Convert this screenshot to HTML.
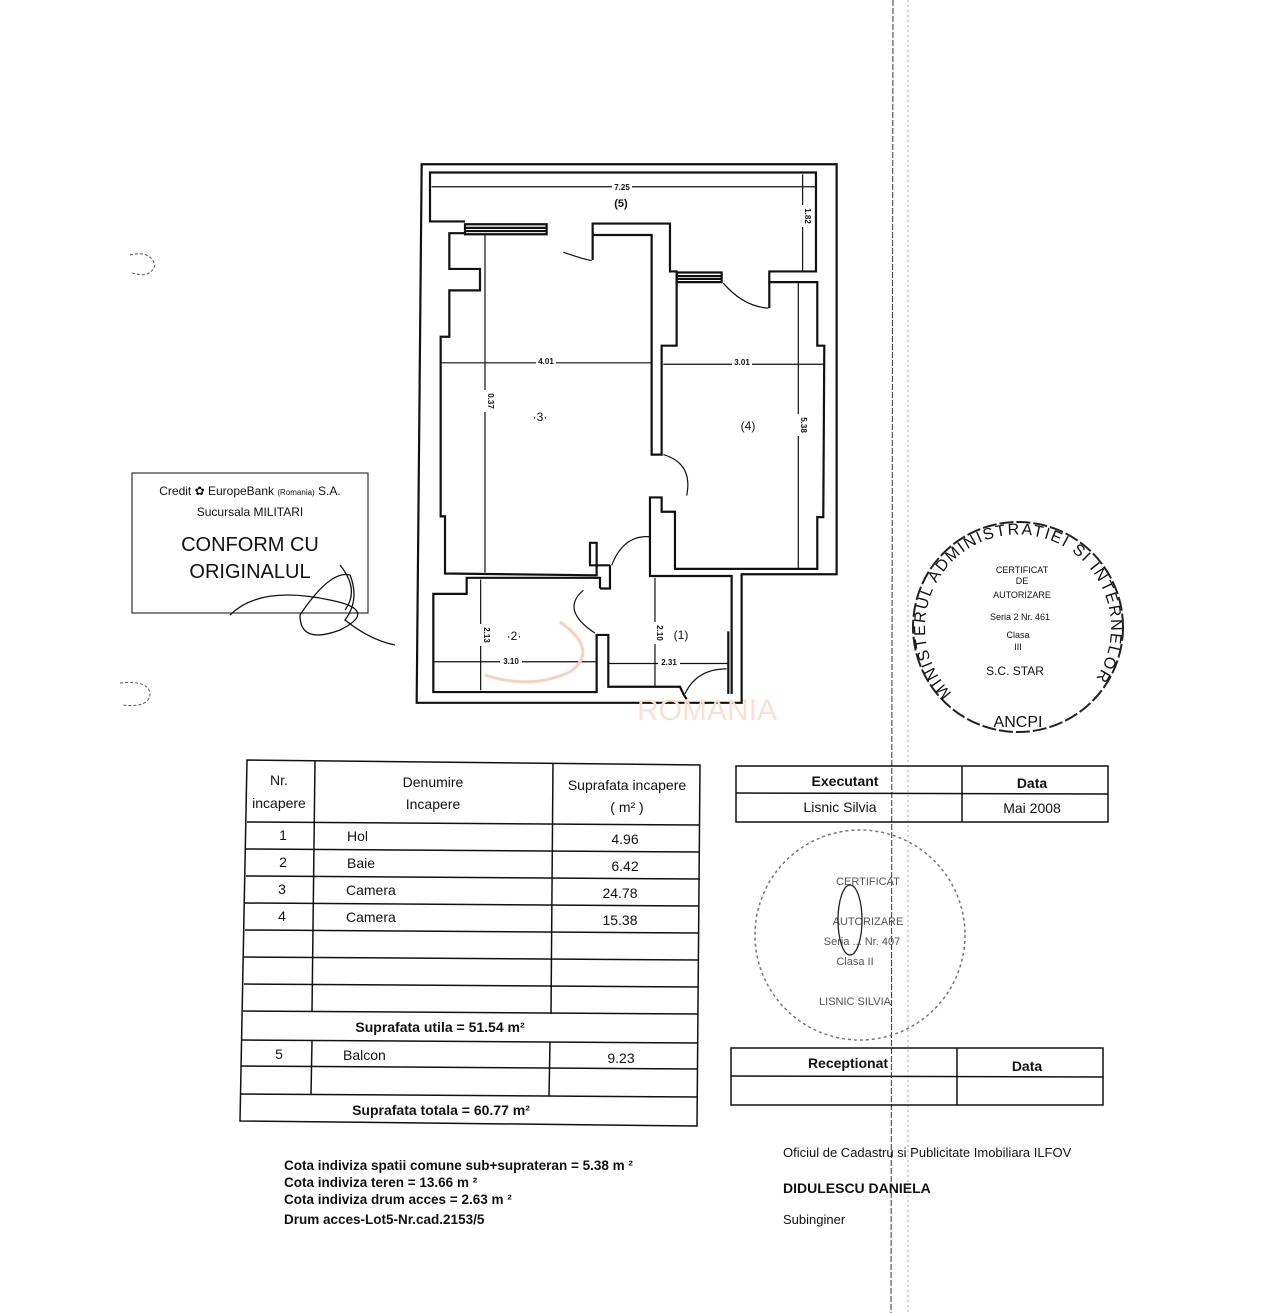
<!DOCTYPE html>
<html><head><meta charset="utf-8"><style>
html,body{margin:0;padding:0;background:#fff}
svg{display:block}
text{font-family:"Liberation Sans",Arial,sans-serif;fill:#111}
</style></head><body>
<svg width="1275" height="1313" viewBox="0 0 1275 1313" xmlns="http://www.w3.org/2000/svg">
<rect width="1275" height="1313" fill="#fff"/>
<line x1="893" y1="0" x2="891" y2="1313" stroke="#333" stroke-width="1" stroke-dasharray="6,2"/>
<line x1="908" y1="0" x2="908" y2="1313" stroke="#aaa" stroke-width="1" stroke-dasharray="2,3"/>

<g transform="translate(410,160) scale(0.3333,0.3571)" fill="none" stroke="#111" stroke-width="2.2">
 <path vector-effect="non-scaling-stroke" d="M35,12 L1280,12 L1280,1160 L995,1160 L995,1520 L20,1520 Z"/>
 <path vector-effect="non-scaling-stroke" d="M165,172 L60,172 L60,35 L1218,35 L1218,312 L1078,312 L1078,342 L1222,342 L1222,520 L1243,520 L1240,1000 L1222,1000 L1222,1145 L795,1145 L795,985 L755,985 L755,945 L720,945 L720,1165 L965,1165 L965,1495"/>
 <path vector-effect="non-scaling-stroke" d="M548,280 L548,178 L780,178 L780,312 L800,312 L800,520 L755,520 L755,825 L725,825 L725,210 L548,210"/>
 <path vector-effect="non-scaling-stroke" d="M1078,342 L1078,415"/>
 <rect vector-effect="non-scaling-stroke" x="165" y="180" width="245" height="28"/>
 <line vector-effect="non-scaling-stroke" x1="165" y1="190" x2="410" y2="190"/>
 <line vector-effect="non-scaling-stroke" x1="165" y1="199" x2="410" y2="199"/>
 <rect vector-effect="non-scaling-stroke" x="800" y="315" width="135" height="27"/>
 <line vector-effect="non-scaling-stroke" x1="800" y1="325" x2="935" y2="325"/>
 <line vector-effect="non-scaling-stroke" x1="800" y1="333" x2="935" y2="333"/>
 <path vector-effect="non-scaling-stroke" d="M165,205 L118,205 L118,305 L210,305 L210,365 L118,365 L118,495 L92,495 L92,998 L105,998 L105,1158 L560,1163 L560,1072 L540,1072 L540,1135 L600,1135"/>
 <path vector-effect="non-scaling-stroke" d="M570,1200 L570,1170 L170,1170 L170,1215 L70,1215 L70,1490 L560,1490 L560,1330 L595,1330 L595,1475 L810,1475 L820,1495 L830,1510"/>
 <path vector-effect="non-scaling-stroke" d="M570,1200 L600,1200 L600,1135"/>
 <path vector-effect="non-scaling-stroke" d="M955,1320 L955,1495"/>
 <path vector-effect="non-scaling-stroke" stroke-width="1.2" d="M460,258 Q510,275 545,282"/>
 <path vector-effect="non-scaling-stroke" stroke-width="1.2" d="M940,345 Q1000,410 1075,415"/>
 <path vector-effect="non-scaling-stroke" stroke-width="1.2" d="M760,825 Q850,850 830,940"/>
 <path vector-effect="non-scaling-stroke" stroke-width="1.2" d="M605,1135 Q640,1050 718,1055"/>
 <path vector-effect="non-scaling-stroke" stroke-width="1.2" d="M520,1205 Q450,1260 555,1325"/>
 <path vector-effect="non-scaling-stroke" stroke-width="1.2" d="M825,1495 Q860,1425 950,1425"/>
 <g stroke-width="1.2">
 <line vector-effect="non-scaling-stroke" x1="65" y1="75" x2="1215" y2="75"/>
 <line vector-effect="non-scaling-stroke" x1="1178" y1="40" x2="1178" y2="310"/>
 <line vector-effect="non-scaling-stroke" x1="92" y1="568" x2="725" y2="568"/>
 <line vector-effect="non-scaling-stroke" x1="760" y1="572" x2="1240" y2="572"/>
 <line vector-effect="non-scaling-stroke" x1="225" y1="210" x2="225" y2="1155"/>
 <line vector-effect="non-scaling-stroke" x1="1165" y1="345" x2="1165" y2="1145"/>
 <line vector-effect="non-scaling-stroke" x1="212" y1="1175" x2="212" y2="1485"/>
 <line vector-effect="non-scaling-stroke" x1="70" y1="1405" x2="560" y2="1405"/>
 <line vector-effect="non-scaling-stroke" x1="735" y1="1170" x2="735" y2="1475"/>
 <line vector-effect="non-scaling-stroke" x1="595" y1="1410" x2="955" y2="1410"/>
 </g>
</g>
<g font-size="8" font-weight="bold">
<rect x="612" y="183" width="20" height="8" fill="#fff"/><text x="622" y="190" text-anchor="middle">7.25</text>
<text x="621" y="207" text-anchor="middle" font-size="11">(5)</text>
<rect x="536" y="356" width="20" height="8" fill="#fff"/><text x="546" y="364" text-anchor="middle">4.01</text>
<rect x="732" y="357" width="20" height="8" fill="#fff"/><text x="742" y="365" text-anchor="middle">3.01</text>
<rect x="480" y="390" width="10" height="22" fill="#fff"/><text transform="translate(488,401) rotate(90)" text-anchor="middle">0.37</text>
<rect x="793" y="414" width="10" height="22" fill="#fff"/><text transform="translate(801,425) rotate(90)" text-anchor="middle">5.38</text>
<rect x="797" y="205" width="10" height="22" fill="#fff"/><text transform="translate(805,216) rotate(90)" text-anchor="middle">1.82</text>
<rect x="476" y="624" width="10" height="22" fill="#fff"/><text transform="translate(484,635) rotate(90)" text-anchor="middle">2.13</text>
<rect x="649" y="622" width="10" height="22" fill="#fff"/><text transform="translate(657,633) rotate(90)" text-anchor="middle">2.10</text>
<rect x="500" y="656" width="22" height="9" fill="#fff"/><text x="511" y="664" text-anchor="middle">3.10</text>
<rect x="658" y="657" width="22" height="9" fill="#fff"/><text x="669" y="665" text-anchor="middle">2.31</text>
</g>
<g font-size="12"><text x="540" y="421" text-anchor="middle">·3·</text><text x="748" y="430" text-anchor="middle">(4)</text><text x="514" y="640" text-anchor="middle">·2·</text><text x="681" y="639" text-anchor="middle">(1)</text></g>
<path d="M560,622 Q600,650 570,672 Q530,690 485,675" fill="none" stroke="#f6d2bf" stroke-width="3"/>
<text x="707" y="720" text-anchor="middle" font-size="30" style="fill:#fbe0d2">ROMANIA</text>

<path d="M130,255 Q150,250 155,265 Q150,280 130,272" fill="none" stroke="#555" stroke-dasharray="3,2"/>
<path d="M120,683 Q150,680 150,695 Q148,708 122,705" fill="none" stroke="#555" stroke-dasharray="3,2"/>

<rect x="132" y="473" width="236" height="140" fill="none" stroke="#333" stroke-width="1.2"/>
<text x="250" y="495" text-anchor="middle" font-size="12">Credit ✿ EuropeBank <tspan font-size="8">(Romania)</tspan> S.A.</text>
<text x="250" y="516" text-anchor="middle" font-size="12">Sucursala MILITARI</text>
<text x="250" y="551" text-anchor="middle" font-size="20" fill="#333">CONFORM CU</text>
<text x="250" y="578" text-anchor="middle" font-size="20" fill="#333">ORIGINALUL</text>
<path d="M230,615 Q260,585 330,600 Q380,610 340,630 Q300,645 300,615 Q330,570 350,575 Q360,600 345,620 Q370,640 395,645 M340,565 Q360,590 345,610" fill="none" stroke="#111" stroke-width="1.3"/>

<circle cx="1018" cy="627" r="105" fill="none" stroke="#222" stroke-width="2" stroke-dasharray="14,3"/>
<g font-size="9" text-anchor="middle"><text x="1022" y="573">CERTIFICAT</text><text x="1022" y="584">DE</text><text x="1022" y="598">AUTORIZARE</text><text x="1020" y="620">Seria 2 Nr. 461</text><text x="1018" y="638">Clasa</text><text x="1018" y="650">III</text><text x="1015" y="675" font-size="12">S.C. STAR</text></g>
<text x="1018" y="727" text-anchor="middle" font-size="16">ANCPI</text>
<path id="arc1" d="M952,693 A93,93 0 1 1 1084,693" fill="none"/>
<text font-size="16"><textPath href="#arc1" textLength="418" lengthAdjust="spacing">MINISTERUL ADMINISTRATIEI SI INTERNELOR</textPath></text>

<circle cx="860" cy="935" r="105" fill="none" stroke="#777" stroke-width="1.5" stroke-dasharray="3,3"/>
<g font-size="11" text-anchor="middle" style="fill:#555"><text x="868" y="885" style="fill:#555">CERTIFICAT</text><text x="868" y="925" style="fill:#555">AUTORIZARE</text><text x="862" y="945" style="fill:#555">Seria ... Nr. 407</text><text x="855" y="965" style="fill:#555">Clasa II</text><text x="855" y="1005" style="fill:#555">LISNIC SILVIA</text></g>
<ellipse cx="850" cy="920" rx="12" ry="35" fill="none" stroke="#222" stroke-width="1.3"/>

<g fill="none" stroke="#111" stroke-width="1.5">
<rect x="736" y="766" width="372" height="56"/><line x1="736" y1="793" x2="1108" y2="794"/><line x1="962" y1="766" x2="962" y2="822"/>
<rect x="731" y="1048" width="372" height="57"/><line x1="731" y1="1076" x2="1103" y2="1077"/><line x1="957" y1="1048" x2="957" y2="1105"/>
</g>
<g font-size="14" text-anchor="middle"><text x="845" y="786" font-weight="bold">Executant</text><text x="1032" y="788" font-weight="bold">Data</text><text x="840" y="812">Lisnic Silvia</text><text x="1032" y="813">Mai 2008</text>
<text x="848" y="1068" font-weight="bold">Receptionat</text><text x="1027" y="1071" font-weight="bold">Data</text></g>

<g fill="none" stroke="#111" stroke-width="1.5">
<path d="M247,760 L700,765 L697,1126 L240,1121 Z"/>
<line x1="247" y1="822" x2="700" y2="825"/>
<line x1="246" y1="849" x2="700" y2="852"/>
<line x1="246" y1="876" x2="700" y2="879"/>
<line x1="245" y1="903" x2="699" y2="906"/>
<line x1="245" y1="930" x2="699" y2="933"/>
<line x1="244" y1="957" x2="699" y2="960"/>
<line x1="244" y1="984" x2="699" y2="987"/>
<line x1="243" y1="1011" x2="698" y2="1014"/>
<line x1="242" y1="1040" x2="698" y2="1043"/>
<line x1="241" y1="1066" x2="698" y2="1069"/>
<line x1="241" y1="1094" x2="697" y2="1097"/>
<line x1="315" y1="761" x2="312" y2="1012"/>
<line x1="553" y1="763" x2="551" y2="1014"/>
<line x1="312" y1="1041" x2="311" y2="1095"/>
<line x1="550" y1="1042" x2="549" y2="1096"/>
</g>
<g font-size="14">
<text x="279" y="785" text-anchor="middle">Nr.</text><text x="279" y="808" text-anchor="middle">incapere</text>
<text x="433" y="787" text-anchor="middle">Denumire</text><text x="433" y="809" text-anchor="middle">Incapere</text>
<text x="627" y="790" text-anchor="middle">Suprafata incapere</text><text x="627" y="812" text-anchor="middle">( m² )</text>
<text x="283" y="840" text-anchor="middle">1</text><text x="347" y="841">Hol</text><text x="625" y="844" text-anchor="middle">4.96</text>
<text x="283" y="867" text-anchor="middle">2</text><text x="347" y="868">Baie</text><text x="625" y="871" text-anchor="middle">6.42</text>
<text x="282" y="894" text-anchor="middle">3</text><text x="346" y="895">Camera</text><text x="620" y="898" text-anchor="middle">24.78</text>
<text x="282" y="921" text-anchor="middle">4</text><text x="346" y="922">Camera</text><text x="620" y="925" text-anchor="middle">15.38</text>
<text x="440" y="1032" text-anchor="middle" font-weight="bold">Suprafata utila = 51.54 m²</text>
<text x="279" y="1059" text-anchor="middle">5</text><text x="343" y="1060">Balcon</text><text x="621" y="1063" text-anchor="middle">9.23</text>
<text x="441" y="1115" text-anchor="middle" font-weight="bold">Suprafata totala = 60.77 m²</text>
</g>

<g font-size="13.5" font-weight="bold">
<text x="284" y="1170">Cota indiviza spatii comune sub+suprateran = 5.38 m ²</text>
<text x="284" y="1187">Cota indiviza  teren = 13.66 m ²</text>
<text x="284" y="1204">Cota indiviza drum acces =   2.63 m ²</text>
<text x="284" y="1224">Drum acces-Lot5-Nr.cad.2153/5</text>
</g>
<text x="783" y="1157" font-size="13">Oficiul de Cadastru si Publicitate Imobiliara ILFOV</text>
<text x="783" y="1193" font-size="14" font-weight="bold">DIDULESCU DANIELA</text>
<text x="783" y="1224" font-size="13">Subinginer</text>
</svg>
</body></html>
